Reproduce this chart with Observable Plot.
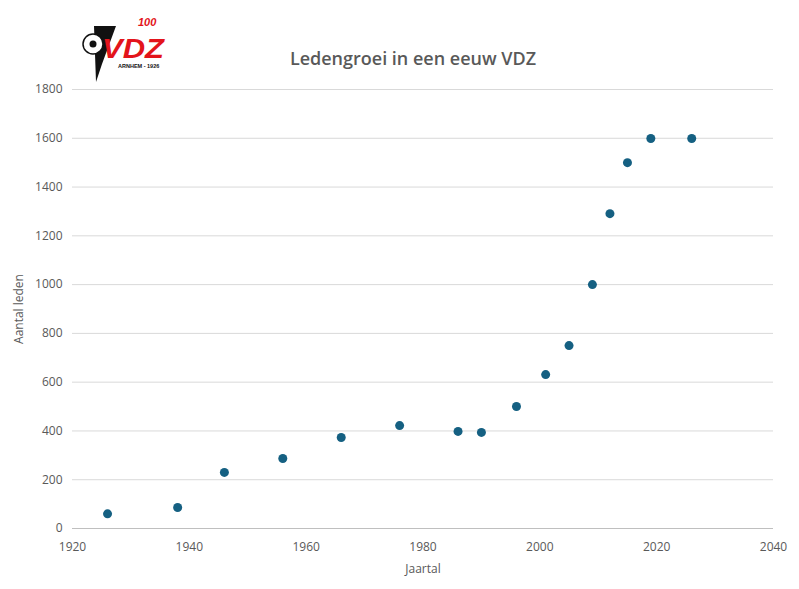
<!DOCTYPE html>
<html><head><meta charset="utf-8">
<script src="https://cdn.jsdelivr.net/npm/d3@7"></script>
<script src="https://cdn.jsdelivr.net/npm/@observablehq/plot@0.6"></script>
<style>
body{margin:0;background:#fff;font-family:"Open Sans",Calibri,sans-serif;}
#wrap{position:relative;width:799px;height:589px;}
#title{position:absolute;left:0;width:826px;top:46px;text-align:center;font-size:18px;color:#595959;font-weight:600;}
#logo{position:absolute;left:80px;top:16px;width:86px;height:68px;}
#chart{position:absolute;left:0;top:0;}
</style></head>
<body><div id="wrap"><div id="chart"></div><div id="title">Ledengroei in een eeuw VDZ</div>
<div id="logo">
<svg width="86" height="68" viewBox="0 0 86 68">
<polygon points="14,10 36,10 22,48 16,66" fill="#111"/>
<text x="22" y="42" font-family="Liberation Sans" font-weight="bold" font-style="italic" font-size="28" fill="#e3141b" textLength="62" lengthAdjust="spacingAndGlyphs">VDZ</text>
<text x="58" y="10" font-family="Liberation Sans" font-weight="bold" font-style="italic" font-size="11" fill="#e3141b">100</text>
<circle cx="13" cy="28" r="10" fill="#fff" stroke="#111" stroke-width="1.5"/>
<circle cx="13" cy="28" r="3.5" fill="#111"/>
<text x="38" y="52" font-family="Liberation Sans" font-size="5.5" font-weight="bold" fill="#111">ARNHEM - 1926</text>
</svg></div></div>
<script>
const years=[1926,1938,1946,1956,1966,1976,1986,1990,1996,2001,2005,2009,2012,2015,2019,2026];
const members=[60,86,230,287,373,422,398,394,500,631,750,1000,1291,1500,1599,1599];
const data=years.map((y,i)=>({y,m:members[i]}));
const plot=Plot.plot({
 width:799,height:589,marginLeft:72,marginRight:26,marginTop:89,marginBottom:61,
 style:{fontFamily:"Open Sans, sans-serif",fontSize:"12px",color:"#595959"},
 x:{domain:[1920,2040],ticks:d3.range(1920,2041,20),tickFormat:d=>String(d),label:"Jaartal",labelArrow:"none",labelAnchor:"center",labelOffset:44,tickSize:0,tickPadding:14},
 y:{domain:[0,1800],ticks:d3.range(0,1801,200),tickFormat:d=>String(d),label:"Aantal leden",labelArrow:"none",labelAnchor:"center",labelOffset:58,tickSize:0,tickPadding:10},
 marks:[
  Plot.gridY(d3.range(200,1801,200),{stroke:"#d9d9d9",strokeOpacity:1}),
  Plot.ruleY([0],{stroke:"#bfbfbf"}),
  Plot.dot(data,{x:"y",y:"m",r:4.5,fill:"#156082"})
 ]});
document.getElementById("chart").appendChild(plot);
</script></body></html>
